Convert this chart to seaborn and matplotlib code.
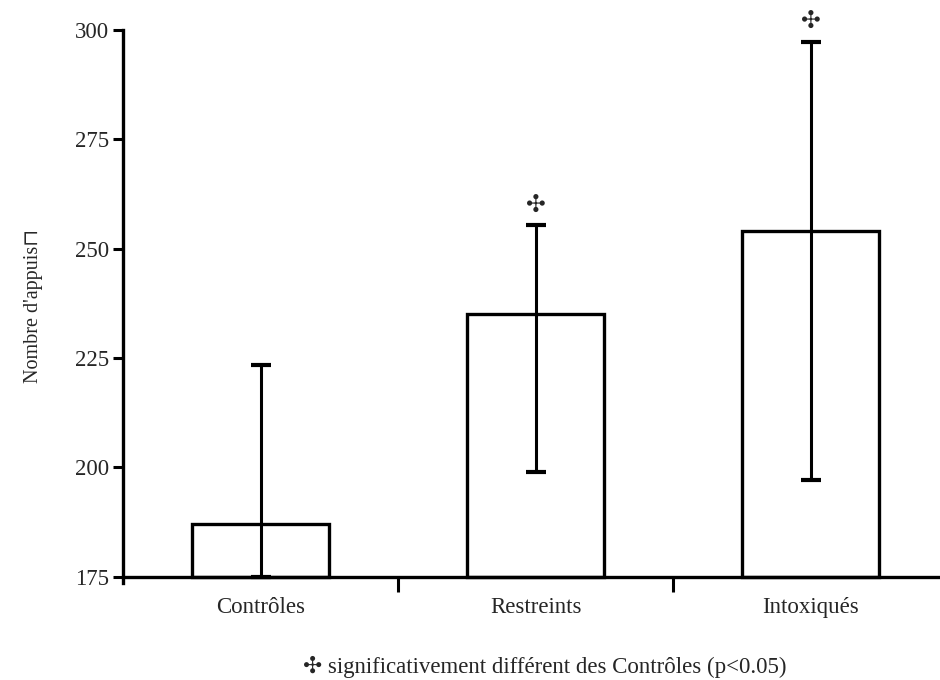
import matplotlib
matplotlib.use("Agg")
import matplotlib.pyplot as plt
import seaborn as sns
import pandas as pd

groups = ["Contrôles", "Restreints", "Intoxiqués"]
means = [187, 235, 254]
err_low = [12, 36, 57]
err_high = [36.5, 20.3, 43.3]
signif = [False, True, True]
y_ticks = [175, 200, 225, 250, 275, 300]
base = 175

sns.set_style("white")
plt.rcParams["font.family"] = ["Liberation Serif", "DejaVu Sans"]

df = pd.DataFrame({"groupe": groups, "appuis": means})

fig = plt.figure(figsize=(9.4, 6.8), dpi=100)
ax = fig.add_axes([0.131, 0.143, 0.869, 0.813])

sns.barplot(data=df, x="groupe", y="appuis", color="white", edgecolor="black",
            linewidth=2.4, width=0.5, errorbar=None, ax=ax, zorder=2)
# bars start at the axis baseline, not at zero
for p in ax.patches:
    h = p.get_height()
    p.set_y(base)
    p.set_height(h - base)

ax.errorbar(range(len(groups)), means, yerr=[err_low, err_high], fmt="none",
            ecolor="black", elinewidth=2.2, capsize=7, capthick=3, zorder=3)

for i, s in enumerate(signif):
    if s:
        ax.text(i, means[i] + err_high[i] + 2.0, "✣", ha="center", va="bottom",
                fontsize=17, fontweight="bold", family=["DejaVu Sans"], clip_on=False)

ax.set_ylim(173.6, 300)
ax.set_xlim(-0.5, 2.47)
ax.set_yticks(y_ticks)
ax.spines["bottom"].set_position(("data", base))
for sp in ["top", "right"]:
    ax.spines[sp].set_visible(False)
for sp in ["left", "bottom"]:
    ax.spines[sp].set_linewidth(2.4)
    ax.spines[sp].set_color("black")

ax.set_xticks([0.5, 1.5], minor=True)
ax.tick_params(axis="x", which="both", bottom=True)
ax.tick_params(axis="y", left=True)
ax.tick_params(axis="x", which="major", length=0, pad=15, labelsize=16.5)
ax.tick_params(axis="x", which="minor", direction="out", length=11, width=2.2, color="black")
ax.tick_params(axis="y", direction="out", length=7, width=2.2, color="black", pad=3, labelsize=16.5)
ax.set_xlabel("")
ax.set_ylabel("Nombre d'appuis⊓", fontsize=14.5,
              family=["Liberation Serif", "DejaVu Serif"])
ax.yaxis.set_label_coords(-0.098, 0.5)

fig.text(0.58, 0.019, "✣ significativement différent des Contrôles (p<0.05)",
         ha="center", va="center", fontsize=16.5)

fig.savefig("out.png", dpi=100)
